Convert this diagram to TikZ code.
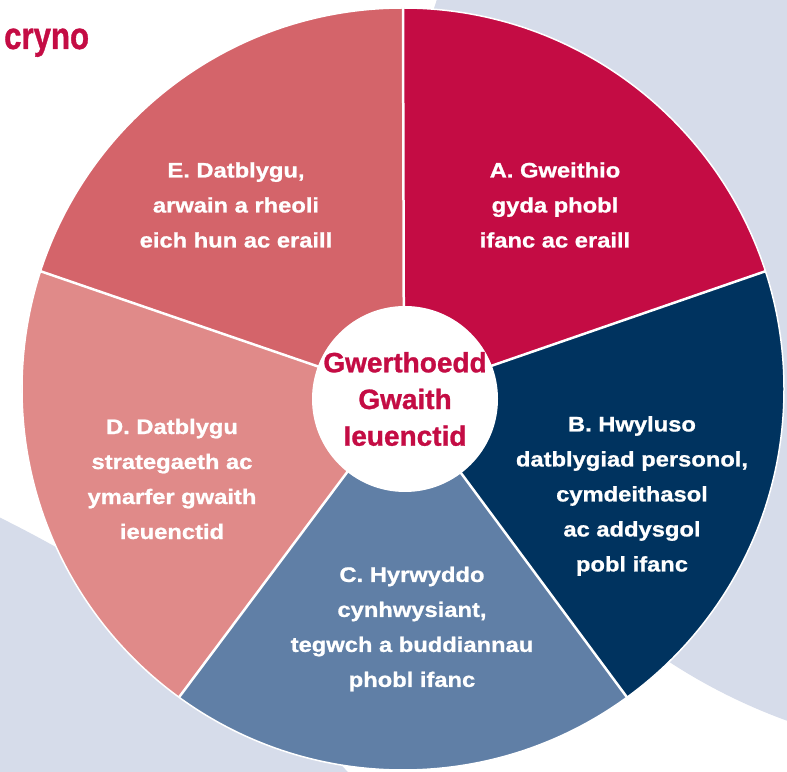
\documentclass[tikz,border=0pt]{standalone}
\usepackage{fontspec}
\setmainfont{Liberation Sans}
\newfontfamily\slicefont[FakeStretch=1.13, FakeBold=1]{Liberation Sans}
\newfontfamily\hubfont[FakeBold=1]{Liberation Sans}
\newfontfamily\cornerfont[FakeStretch=0.82, FakeBold=1]{Liberation Sans}
\usetikzlibrary{calc}

\definecolor{crimson}{HTML}{C40C44}
\definecolor{navy}{HTML}{00335F}
\definecolor{steel}{HTML}{607FA6}
\definecolor{rosepale}{HTML}{E08A89}
\definecolor{rosedeep}{HTML}{D4646A}
\definecolor{backgrey}{HTML}{D6DCEA}

\begin{document}
\begin{tikzpicture}[x=1pt, y=1pt,
  slicetext/.style={text=white, align=center, inner sep=0,
    font=\slicefont\bfseries\fontsize{21}{35}\selectfont},
  divider/.style={draw=white, line width=2.5pt},
  hubdisc/.style={circle, fill=white, minimum size=186pt, inner sep=0}]
  \useasboundingbox (0,0) rectangle (787,771);

  % background discs
  \begin{scope}
    \clip (0,0) rectangle (787,771);
    \fill[backgrey] (983,591) circle (575);
    \fill[backgrey] (-560,-879) circle (1263);
  \end{scope}

  \coordinate (mid) at (403,382);
  \coordinate (hubpt) at (404,375);
  \foreach \name/\ang in {ab/18, bc/-54, cd/-126, de/162, ea/90}
    \coordinate (\name) at ($(mid)+(\ang:381)$);

  \fill[crimson]  (hubpt) -- (ea) arc[start angle=90,   end angle=18,   radius=381] -- cycle;
  \fill[navy]     (hubpt) -- (ab) arc[start angle=18,   end angle=-54,  radius=381] -- cycle;
  \fill[steel]    (hubpt) -- (bc) arc[start angle=-54,  end angle=-126, radius=381] -- cycle;
  \fill[rosepale] (hubpt) -- (cd) arc[start angle=-126, end angle=-198, radius=381] -- cycle;
  \fill[rosedeep] (hubpt) -- (de) arc[start angle=162,  end angle=90,   radius=381] -- cycle;
  \draw[white, line width=1.5pt] (mid) circle (381);
  \foreach \p in {ab, bc, cd, de, ea}
    \draw[divider] (hubpt) -- (\p);

  \node[hubdisc] (hub) at (405,372) {};
  \node[text=crimson, align=center, inner sep=0,
    font=\hubfont\bfseries\fontsize{28}{36.7}\selectfont] (hubtitle) at (hub) {Gwerthoedd\\Gwaith\\Ieuenctid};

  \node[slicetext] (sliceA) at (555,566) {A. Gweithio\\gyda phobl\\ifanc ac eraill};
  \node[slicetext] (sliceB) at (632,275) {B. Hwyluso\\datblygiad personol,\\cymdeithasol\\ac addysgol\\pobl ifanc};
  \node[slicetext] (sliceC) at (412,142) {C. Hyrwyddo\\cynhwysiant,\\tegwch a buddiannau\\phobl ifanc};
  \node[slicetext] (sliceD) at (172,292) {D. Datblygu\\strategaeth ac\\ymarfer gwaith\\ieuenctid};
  \node[slicetext] (sliceE) at (236,566) {E. Datblygu,\\arwain a rheoli\\eich hun ac eraill};

  \node[anchor=base west, inner sep=0, text=crimson,
    font=\cornerfont\bfseries\fontsize{38}{40}\selectfont] (summary) at (4,722) {cryno};
\end{tikzpicture}
\end{document}
